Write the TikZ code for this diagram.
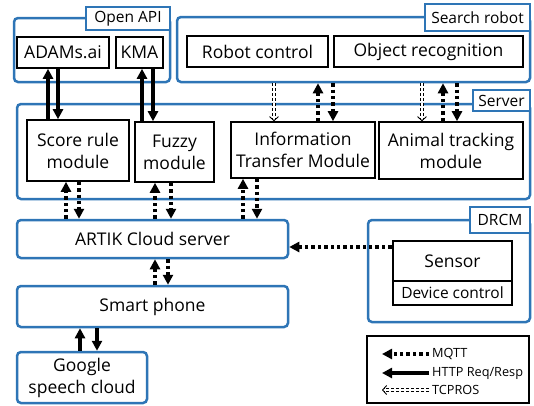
\documentclass[tikz,border=0pt]{standalone}
\usepackage{fontspec}
\setmainfont{Open Sans}
\usetikzlibrary{arrows.meta}
\definecolor{grpblue}{HTML}{2E75B6}
\begin{document}
\begin{tikzpicture}[x=1pt,y=-1pt,
  grp/.style={draw=grpblue, line width=2.5pt, rounded corners=4pt, inner sep=0pt},
  glabel/.style={draw=grpblue, line width=2.5pt, fill=white, inner sep=0pt, font=\fontsize{15.5}{18}\selectfont},
  modbox/.style={draw=black, line width=1.6pt, fill=white, inner sep=0pt, align=center, font=\fontsize{17.5}{22}\selectfont},
  bluebox/.style={draw=grpblue, line width=2.5pt, rounded corners=4pt, fill=white, inner sep=0pt, align=center, font=\fontsize{17.5}{22}\selectfont},
  http/.style={line width=3.4pt, -{Triangle[length=10pt,width=10pt]}},
  mqtt/.style={line width=3.4pt, dash pattern=on 3.4pt off 3pt, -{Triangle[length=10pt,width=10pt]}},
  tcps/.style={double=white, line width=0.8pt, double distance=1.6pt, dash pattern=on 3pt off 2pt, shorten >=1.5pt},
  tcpt/.style={line width=0.9pt, dash pattern=on 0pt off 1000pt, -{Straight Barb[length=4pt,width=9pt]}},
  legtext/.style={inner sep=0pt, anchor=west, font=\fontsize{12.7}{15}\selectfont}
]
\useasboundingbox (0,0) rectangle (534,405);

% groups
\node[grp, minimum width=156pt, minimum height=64pt] (openapi) at (92,50) {};
\node[grp, minimum width=353pt, minimum height=65pt] (search) at (353.5,49.5) {};
\node[grp, minimum width=513pt, minimum height=95pt] (server) at (273.5,151.5) {};
\node[grp, minimum width=162pt, minimum height=102pt] (drcm) at (449,271) {};

% group labels
\node[glabel, minimum width=84pt, minimum height=23pt] (lopen) at (128,18.5) {Open API};
\node[glabel, minimum width=105pt, minimum height=27pt] (lsearch) at (477.5,17.5) {Search robot};
\node[glabel, minimum width=57pt, minimum height=21pt] (lserver) at (501.5,100.5) {Server};
\node[glabel, minimum width=60pt, minimum height=26pt] (ldrcm) at (500,220) {DRCM};

% modules
\node[modbox, minimum width=92pt, minimum height=31pt] (adams) at (63,52.5) {ADAMs.ai};
\node[modbox, minimum width=47pt, minimum height=31pt] (kma) at (139.5,52.5) {KMA};
\node[modbox, minimum width=141pt, minimum height=31pt] (robot) at (257.5,51.5) {Robot control};
\node[modbox, minimum width=189pt, minimum height=31pt] (objrec) at (428.5,51.5) {Object recognition};
\node[modbox, minimum width=102pt, minimum height=61pt] (score) at (78,150.5) {Score rule\\module};
\node[modbox, minimum width=79pt, minimum height=60pt] (fuzzy) at (174.5,152) {Fuzzy\\module};
\node[modbox, minimum width=144pt, minimum height=56pt] (itm) at (303,150) {Information\\Transfer Module};
\node[modbox, minimum width=144pt, minimum height=57pt] (animal) at (451,150.5) {Animal tracking\\module};

\node[bluebox, minimum width=271pt, minimum height=38pt] (artik) at (152.5,239) {ARTIK Cloud server};
\node[bluebox, minimum width=271pt, minimum height=41pt] (phone) at (152.5,306.5) {Smart phone};
\node[bluebox, minimum width=130pt, minimum height=51pt] (google) at (82,377.5) {Google\\speech cloud};

\node[modbox, line width=2.6pt, minimum width=119pt, minimum height=24pt, font=\fontsize{15.5}{18}\selectfont] (devctl) at (452.5,293) {Device control};
\node[modbox, line width=2.8pt, minimum width=119pt, minimum height=40pt] (sensor) at (452.5,261) {Sensor};

% legend
\node[draw=black, line width=1.4pt, minimum width=162pt, minimum height=67pt, inner sep=0pt] (legend) at (448,369.5) {};

% HTTP arrows
\draw[http] ([xshift=-30pt]score.north) -- ([xshift=-15pt]adams.south);
\draw[http] ([xshift=-5pt]adams.south) -- ([xshift=-20pt]score.north);
\draw[http] ([xshift=-32.5pt]fuzzy.north) -- ([xshift=2.5pt]kma.south);
\draw[http] ([xshift=13.5pt]kma.south) -- ([xshift=-21.5pt]fuzzy.north);
\draw[http] ([xshift=-2pt]google.north) -- ([xshift=-72.5pt]phone.south);
\draw[http] ([xshift=-55.5pt]phone.south) -- ([xshift=15pt]google.north);

% TCPROS
\draw[tcps] ([xshift=-79.5pt]search.south) -- ([xshift=-29pt]itm.north);
\draw[tcpt] ([xshift=-79.5pt]search.south) -- ([xshift=-29pt]itm.north);
\draw[tcps] ([xshift=68.5pt]search.south) -- ([xshift=-29pt]animal.north);
\draw[tcpt] ([xshift=68.5pt]search.south) -- ([xshift=-29pt]animal.north);

% MQTT search robot
\draw[mqtt] ([xshift=15pt]itm.north) -- ([xshift=-35.5pt]search.south);
\draw[mqtt] ([xshift=-20.5pt]search.south) -- ([xshift=30pt]itm.north);
\draw[mqtt] ([xshift=-8pt]animal.north) -- ([xshift=89.5pt]search.south);
\draw[mqtt] ([xshift=103.5pt]search.south) -- ([xshift=6pt]animal.north);

% MQTT server <-> ARTIK
\draw[mqtt] ([xshift=-86.5pt]artik.north) -- ([xshift=-12pt]score.south);
\draw[mqtt] ([xshift=1pt]score.south) -- ([xshift=-73.5pt]artik.north);
\draw[mqtt] ([xshift=2.5pt]artik.north) -- ([xshift=-19.5pt]fuzzy.south);
\draw[mqtt] ([xshift=-3.5pt]fuzzy.south) -- ([xshift=18.5pt]artik.north);
\draw[mqtt] ([xshift=90.5pt]artik.north) -- ([xshift=-60pt]itm.south);
\draw[mqtt] ([xshift=-46pt]itm.south) -- ([xshift=104.5pt]artik.north);

% ARTIK <-> phone
\draw[mqtt] ([xshift=2.5pt]phone.north) -- ([xshift=2.5pt]artik.south);
\draw[mqtt] ([xshift=15.5pt]artik.south) -- ([xshift=15.5pt]phone.north);

% sensor -> ARTIK
\draw[mqtt] ([yshift=14pt]sensor.west) -- ([yshift=-8pt]artik.east);

% legend items
\coordinate (m1) at (429,354); \coordinate (m0) at (382,354);
\coordinate (h1) at (429,373); \coordinate (h0) at (382,373);
\coordinate (t1) at (429,390); \coordinate (t0) at (382,390);
\draw[mqtt] (m1) -- (m0);
\draw[http] (h1) -- (h0);
\draw[tcps] (t1) -- (t0);
\draw[tcpt] (t1) -- (t0);
\node[legtext] (lm) at (432,354) {MQTT};
\node[legtext] (lh) at (432,373) {HTTP Req/Resp};
\node[legtext] (lt) at (432,390) {TCPROS};
\end{tikzpicture}
\end{document}
